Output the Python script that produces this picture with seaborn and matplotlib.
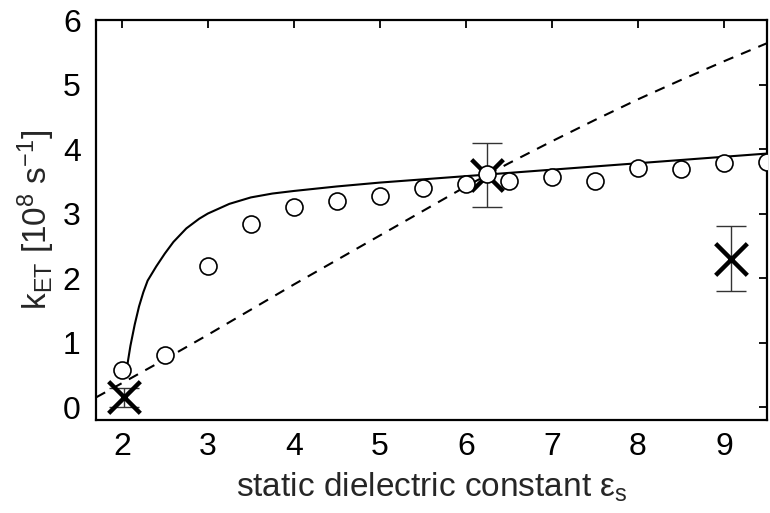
import matplotlib
matplotlib.use("Agg")
import matplotlib.pyplot as plt
import seaborn as sns
import numpy as np
import pandas as pd

# circles (simulation)
circ_x = [2, 2.5, 3, 3.5, 4, 4.5, 5, 5.5, 6, 6.25, 6.5, 7, 7.5, 8, 8.5, 9, 9.5]
circ_y = [0.57, 0.8, 2.18, 2.84, 3.1, 3.2, 3.27, 3.4, 3.46, 3.62, 3.5, 3.56, 3.5, 3.71, 3.69, 3.78, 3.8]

# solid curve
solid_x = [2.06, 2.1, 2.15, 2.2, 2.25, 2.3, 2.4, 2.5, 2.6, 2.75, 2.9, 3.0, 3.25, 3.5, 3.75, 4.0, 4.5, 5.0, 5.5, 6.0, 6.5, 7.0, 7.5, 8.0, 8.5, 9.0, 9.5]
solid_y = [0.62, 0.95, 1.28, 1.56, 1.78, 1.96, 2.18, 2.38, 2.56, 2.77, 2.92, 3.0, 3.15, 3.25, 3.31, 3.35, 3.42, 3.48, 3.53, 3.58, 3.63, 3.68, 3.73, 3.78, 3.83, 3.88, 3.93]

# dashed curve
dash_x = [1.7, 2.0, 2.5, 3.0, 3.5, 4.0, 4.5, 5.0, 5.5, 6.0, 6.5, 7.0, 7.5, 8.0, 8.5, 9.0, 9.5]
dash_y = [0.15, 0.37, 0.74, 1.12, 1.51, 1.9, 2.28, 2.66, 3.04, 3.42, 3.78, 4.12, 4.45, 4.77, 5.07, 5.36, 5.64]

# experiment with error bars
exp_x = [2.02, 6.25, 9.08]
exp_y = [0.15, 3.6, 2.3]
exp_err = [0.15, 0.5, 0.5]

sns.set_theme(style="white")
plt.rcParams['font.family'] = ['Liberation Sans', 'DejaVu Sans']
plt.rcParams['mathtext.fontset'] = 'custom'
plt.rcParams['mathtext.rm'] = 'Liberation Sans'
plt.rcParams['mathtext.it'] = 'Liberation Sans'

fig = plt.figure(figsize=(7.7, 5.13), dpi=100)
ax = fig.add_axes([0.1247, 0.1813, 0.8713, 0.7797])

sns.lineplot(x=solid_x, y=solid_y, ax=ax, color='black', lw=1.5, zorder=2, sort=False)
sns.lineplot(x=dash_x, y=dash_y, ax=ax, color='black', lw=1.5, zorder=2, sort=False)
ax.lines[-1].set_linestyle((0, (5, 4)))

ax.errorbar(exp_x, exp_y, yerr=exp_err, fmt='none', ecolor='#333333', elinewidth=1.0,
            capsize=11, capthick=1.0, zorder=3)
sns.scatterplot(x=exp_x, y=exp_y, ax=ax, marker='x', s=520, color='black',
                linewidth=3.2, zorder=4)
sns.scatterplot(x=circ_x, y=circ_y, ax=ax, marker='o', s=150, facecolor='white',
                edgecolor='black', linewidth=1.2, zorder=5)

ax.set_xlim(1.7, 9.5)
ax.set_ylim(-0.2, 6)
ax.set_xticks([2, 3, 4, 5, 6, 7, 8, 9])
ax.set_yticks([0, 1, 2, 3, 4, 5, 6])
ax.tick_params(direction='in', length=6, width=1.3, top=True, right=True,
               labelsize=23, colors='black')
ax.tick_params(axis='x', pad=9)
ax.tick_params(axis='y', pad=11)
for sp in ax.spines.values():
    sp.set_linewidth(1.6)
    sp.set_color('black')

ax.set_xlabel('static dielectric constant ε$_\\mathregular{s}$', fontsize=24, labelpad=6)
ax.set_ylabel('k$_\\mathregular{ET}$ [10$^\\mathregular{8}$ s$^\\mathregular{-1}$]', fontsize=24, labelpad=4)

fig.savefig('out.png', dpi=100)
